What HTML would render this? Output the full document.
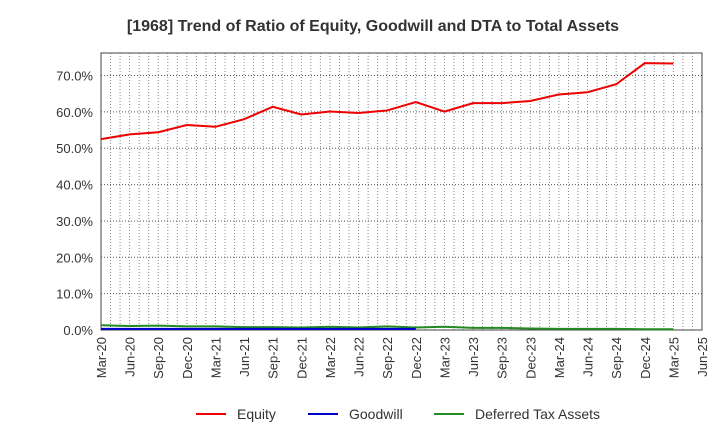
<!DOCTYPE html>
<html><head><meta charset="utf-8"><style>
body{margin:0;background:#fff;font-family:"Liberation Sans",sans-serif;}
</style></head><body>
<svg width="720" height="440" xmlns="http://www.w3.org/2000/svg" font-family="Liberation Sans, sans-serif">
<rect width="720" height="440" fill="#fff"/>
<text x="373" y="31" text-anchor="middle" font-size="16" font-weight="bold" fill="#333">[1968]  Trend of Ratio of Equity, Goodwill and DTA to Total Assets</text>
<g id="grid"></g><g id="axes"></g><g id="series"></g>
<g id="legend">
<line x1="196" y1="414" x2="226" y2="414" stroke="#e00" stroke-width="2"/>
<text x="237" y="419" font-size="14" fill="#333">Equity</text>
<line x1="308" y1="414" x2="338" y2="414" stroke="#0000cc" stroke-width="2"/>
<text x="349" y="419" font-size="14" fill="#333">Goodwill</text>
<line x1="434" y1="414" x2="464" y2="414" stroke="#228b22" stroke-width="2"/>
<text x="475" y="419" font-size="14" fill="#333">Deferred Tax Assets</text>
</g>
</svg>
<script>
const categories=["Mar-20","Jun-20","Sep-20","Dec-20","Mar-21","Jun-21","Sep-21","Dec-21","Mar-22","Jun-22","Sep-22","Dec-22","Mar-23","Jun-23","Sep-23","Dec-23","Mar-24","Jun-24","Sep-24","Dec-24","Mar-25","Jun-25"];
const equity=[52.5,53.8,54.4,56.4,55.9,58.0,61.4,59.3,60.1,59.7,60.4,62.7,60.1,62.4,62.4,63.0,64.8,65.4,67.6,73.4,73.3];
const goodwill=[0.3,0.3,0.3,0.3,0.3,0.3,0.3,0.3,0.3,0.3,0.3,0.3];
const dta=[1.3,1.1,1.2,1.0,1.0,0.8,0.8,0.7,0.9,0.7,1.0,0.7,0.9,0.6,0.6,0.4,0.3,0.3,0.3,0.2,0.2];
const yTicks=[0,10,20,30,40,50,60,70];
const L=101,R=702,T=53,B=330,yMax=76.2;
const NS="http://www.w3.org/2000/svg";
const x=i=>L+(R-L)*i/(categories.length-1);
const y=v=>B-(B-T)*v/yMax;
function mk(tag,attrs,parent){const e=document.createElementNS(NS,tag);for(const k in attrs)e.setAttribute(k,attrs[k]);document.getElementById(parent).appendChild(e);return e;}
const months=(categories.length-1)*3;
for(let m=1;m<months;m++){const xx=L+(R-L)*m/months;
const g=mk('line',{x1:xx,x2:xx,y1:T,y2:B,stroke:'#888','stroke-dasharray':'1,2','stroke-width':1},'grid');

}
yTicks.forEach(v=>{const g=mk('line',{x1:L,x2:R,y1:y(v),y2:y(v),stroke:'#555','stroke-dasharray':'1,2','stroke-width':1},'grid');


const t=mk('text',{x:L-8,y:y(v)+5,'text-anchor':'end','font-size':13,fill:'#333'},'axes');t.textContent=v.toFixed(1)+'%';

});
const fr=mk('rect',{x:L,y:T,width:R-L,height:B-T,fill:'none',stroke:'#444','stroke-width':1},'axes');


categories.forEach((c,i)=>{const t=mk('text',{x:0,y:0,'text-anchor':'end','font-size':13,fill:'#333',transform:`translate(${x(i)+5},337) rotate(-90)`},'axes');t.textContent=c;

});
function line(arr,col,name){const p=mk('polyline',{points:arr.map((v,i)=>x(i)+','+y(v)).join(' '),fill:'none',stroke:col,'stroke-width':2},'series');

}
line(dta,'#228b22','dta-line');
line(goodwill,'#0000cc','goodwill-line');
line(equity,'#e00','equity-line');
</script>
</body></html>
